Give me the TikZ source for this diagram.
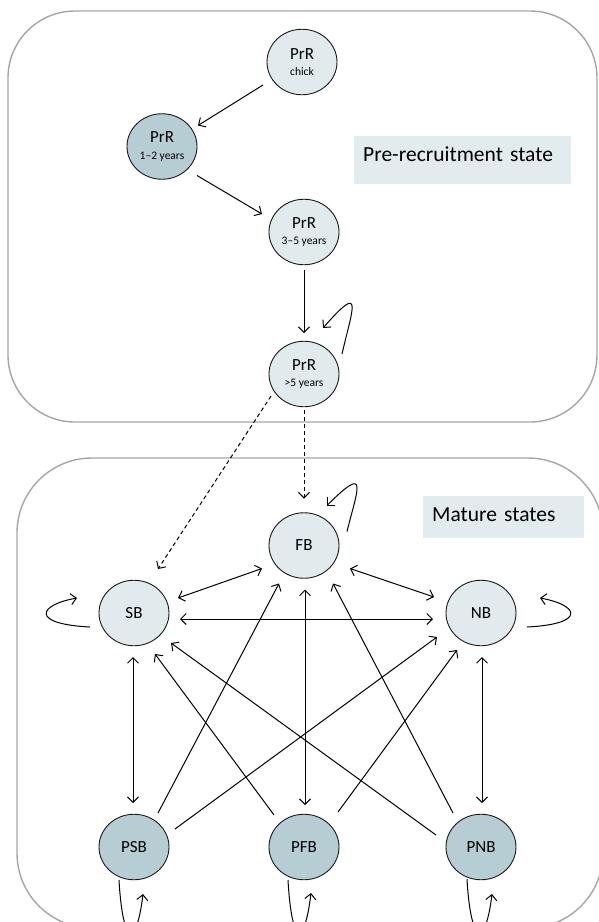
\documentclass[tikz,border=0pt]{standalone}
\usepackage{fontspec}
\setmainfont{Carlito}
\usetikzlibrary{arrows.meta,calc,shapes.geometric}
\definecolor{lightfill}{HTML}{E1EAED}
\definecolor{darkfill}{HTML}{B7CDD4}
\definecolor{panelgray}{HTML}{A6A6A6}
\definecolor{labelfill}{HTML}{E2EBED}
\begin{document}
\begin{tikzpicture}[x=1pt,y=-1pt,
  statenode/.style={ellipse, draw=black!90, line width=0.9pt, minimum width=70pt, minimum height=65.5pt,
    inner sep=0pt, font=\fontsize{17}{18}\selectfont, align=center, text=black},
  lite/.style={statenode, fill=lightfill},
  dark/.style={statenode, fill=darkfill},
  panel/.style={draw=panelgray, line width=1.4pt},
  labelbox/.style={fill=labelfill, anchor=north west, inner xsep=9pt, inner ysep=0pt, align=left,
    font=\fontsize{21.5}{24}\selectfont, text=black},
  tipV/.tip={Straight Barb[length=5.5pt,width=11pt]},
  conn/.style={line width=1pt, -tipV},
  conn2/.style={line width=1pt, tipV-tipV},
  dconn/.style={conn, dash pattern=on 4pt off 3pt}]
\useasboundingbox (0,0) rectangle (599,922);
\clip (0,0) rectangle (599,922);
\fill[white] (0,0) rectangle (599,922);

% panels
\draw[panel, rounded corners=67pt] (8,11) rectangle (597,422);
\draw[panel, rounded corners=75pt] (17,458) rectangle (603,928);

% label boxes
\node[labelbox, minimum width=217pt, minimum height=48pt, text width=199pt, text height=14pt, text depth=10.6pt] (lbpre) at (354,136) {Pre-recruitment state};
\node[labelbox, minimum width=161pt, minimum height=42pt, text width=143pt, text height=14pt, text depth=4.6pt] (lbmat) at (423,496) {Mature states};

% nodes
\node[lite] (chick) at (302,62) {PrR\\[-1.5pt]{\fontsize{11.5}{12}\selectfont chick}};
\node[dark] (y12) at (162,146.5) {PrR\\[-1.5pt]{\fontsize{11.5}{12}\selectfont 1--2 years}};
\node[lite] (y35) at (304,232) {PrR\\[-1.5pt]{\fontsize{11.5}{12}\selectfont 3--5 years}};
\node[lite] (y5) at (304,374) {PrR\\[-1.5pt]{\fontsize{11.5}{12}\selectfont >5 years}};

\node[lite] (fb) at (304,545.5) {FB};
\node[lite] (sb) at (134,613) {SB};
\node[lite] (nb) at (481,613) {NB};
\node[dark] (psb) at (134,847) {PSB};
\node[dark] (pfb) at (304,847) {PFB};
\node[dark] (pnb) at (481,847) {PNB};

% pre-recruitment connectors
\draw[conn] ($(chick)+(-39,23)$) -- ($(y12)+(36,-21)$);
\draw[conn] ($(y12)+(35,29)$) -- ($(y35)+(-42,-18)$);
\draw[conn] ($(y35)+(0,38)$) -- ($(y5)+(0,-41)$);
\draw[conn] ($(y5)+(38,-20)$) .. controls +(10,-44) and +(42,-48) .. ($(y5)+(19,-46)$);

% recruitment (dashed)
\draw[dconn] ($(y5)+(-33,22)$) -- ($(sb)+(24,-44)$);
\draw[dconn] ($(y5)+(0,36)$) -- ($(fb)+(0,-47)$);

% mature connectors
\draw[conn] ($(fb)+(43,-14)$) .. controls +(10,-41) and +(43,-43) .. ($(fb)+(23,-40)$);
\draw[conn2] ($(sb)+(44,-15)$) -- ($(fb)+(-42,23)$);
\draw[conn2] ($(sb)+(46,6)$) -- ($(nb)+(-48,6)$);
\draw[conn2] ($(fb)+(46,23)$) -- ($(nb)+(-47,-16)$);
\draw[conn] ($(sb)+(-44,14)$) .. controls +(-60,-3) and +(-39,7) .. ($(sb)+(-57,-15)$);
\draw[conn] ($(nb)+(46,14)$) .. controls +(60,-3) and +(39,7) .. ($(nb)+(59,-15)$);

\draw[conn2] ($(sb)+(-1,44)$) -- ($(psb)+(-1,-44)$);
\draw[conn2] ($(fb)+(1,44)$) -- ($(pfb)+(1,-42)$);
\draw[conn2] ($(nb)+(1,44)$) -- ($(pnb)+(1,-44)$);

\draw[conn] ($(psb)+(24,-34)$) -- ($(fb)+(-25,38)$);
\draw[conn] ($(psb)+(41,-18)$) -- ($(nb)+(-44,24)$);
\draw[conn] ($(pfb)+(-30,-32)$) -- ($(sb)+(21,41)$);
\draw[conn] ($(pnb)+(-45,-12)$) -- ($(sb)+(37,30)$);
\draw[conn] ($(pfb)+(34,-35)$) -- ($(nb)+(-24,37)$);
\draw[conn] ($(pnb)+(-28,-34)$) -- ($(fb)+(29,38)$);

\draw[conn] ($(psb)+(-15,33)$) .. controls +(4,70) and +(-6,51) .. ($(psb)+(9,47)$);
\draw[conn] ($(pfb)+(-16,33)$) .. controls +(4,70) and +(-6,51) .. ($(pfb)+(7,46)$);
\draw[conn] ($(pnb)+(-14,32)$) .. controls +(4,70) and +(-6,51) .. ($(pnb)+(11,47)$);
\end{tikzpicture}
\end{document}
